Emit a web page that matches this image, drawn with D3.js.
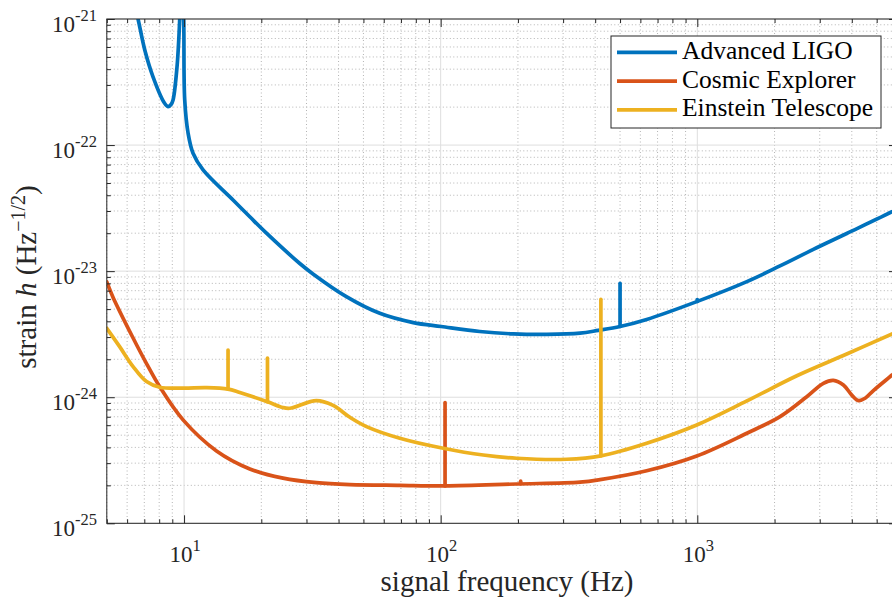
<!DOCTYPE html>
<html><head><meta charset="utf-8">
<script src="https://cdn.jsdelivr.net/npm/d3@7"></script>
<style>
body{margin:0;background:#fff;}
svg{display:block;font-family:"Liberation Serif","Times New Roman",serif;}
</style></head><body>
<svg id="c" width="892" height="601"></svg>
<script>
// ---------------- data ----------------
const seriesNames = ["Advanced LIGO", "Cosmic Explorer", "Einstein Telescope"];
const seriesColors = ["#0072BD", "#D95319", "#EDB120"];

// smooth noise curves (Hz, strain 1/sqrt(Hz))
const aligoFreq = [6.3, 6.62, 7.03, 7.57, 8.36, 8.66, 8.9, 9.06, 9.39, 9.62, 9.8, 9.97, 10.06, 10.37, 10.84, 11.86, 15.52, 18.04, 20.95, 28.25, 31.8, 42.9, 57.9, 78.2, 100.5, 142, 192, 259, 349, 411, 500, 635, 995, 1560, 2100, 2833, 3822, 5740, 6000];
const aligoStrain = [1.58e-21, 1.0e-21, 5.68e-22, 3.48e-22, 2.18e-22, 2.02e-22, 2.10e-22, 2.28e-22, 4.19e-22, 1.0e-21, 3.2e-21, 1.0e-21, 2.28e-22, 1.24e-22, 8.61e-23, 6.35e-23, 3.67e-23, 2.70e-23, 2.0e-23, 1.15e-23, 9.51e-24, 6.28e-24, 4.63e-24, 3.91e-24, 3.64e-24, 3.32e-24, 3.18e-24, 3.15e-24, 3.22e-24, 3.39e-24, 3.64e-24, 4.14e-24, 5.73e-24, 8.26e-24, 1.10e-23, 1.49e-23, 1.99e-23, 2.96e-23, 3.11e-23];

const ceFreq = [5.0, 5.29, 6.33, 7.14, 8.04, 9.91, 13.38, 18.04, 24.3, 32.8, 44.3, 69.3, 104, 197.7, 349, 418, 635, 995, 1560, 2101, 2670, 3099, 3390, 3709, 3999, 4246, 4507, 4855, 5740, 6000];
const ceStrain = [8.20e-24, 6.19e-24, 2.95e-24, 1.85e-24, 1.21e-24, 6.61e-25, 3.75e-25, 2.70e-25, 2.28e-25, 2.10e-25, 2.03e-25, 2.0e-25, 1.98e-25, 2.05e-25, 2.12e-25, 2.22e-25, 2.61e-25, 3.42e-25, 5.18e-25, 7.02e-25, 1.01e-24, 1.29e-24, 1.36e-24, 1.25e-24, 1.04e-24, 9.40e-25, 9.82e-25, 1.13e-24, 1.50e-24, 1.62e-24];

const etFreq = [5.0, 5.61, 6.33, 7.14, 8.04, 9.91, 12.23, 14.84, 16.49, 21.14, 24.3, 25.83, 32.8, 38.1, 44.3, 51.4, 69.3, 102.3, 146.5, 197.7, 309.7, 421, 635, 995, 1560, 2443, 3822, 5740, 6000];
const etStrain = [3.52e-24, 2.52e-24, 1.75e-24, 1.33e-24, 1.20e-24, 1.18e-24, 1.19e-24, 1.16e-24, 1.09e-24, 9.2e-25, 8.28e-25, 8.18e-25, 9.40e-25, 8.61e-25, 6.93e-25, 5.85e-25, 4.73e-25, 3.94e-25, 3.48e-25, 3.28e-25, 3.22e-25, 3.43e-25, 4.32e-25, 6.03e-25, 9.35e-25, 1.48e-24, 2.20e-24, 3.18e-24, 3.31e-24];

// narrow resonance lines (frequency, base of line, top of line)
const aligoLineFreq = [500, 1000];
const aligoLineBase = [3.64e-24, 5.75e-24];
const aligoLineTop = [8.02e-24, 5.95e-24];
const ceLineFreq = [104, 205];
const ceLineBase = [1.98e-25, 2.06e-25];
const ceLineTop = [9.06e-25, 2.16e-25];
const etLineFreq = [14.84, 21.14, 421];
const etLineBase = [1.16e-24, 9.2e-25, 3.43e-25];
const etLineTop = [2.37e-24, 2.04e-24, 5.98e-24];

const xMajorTicks = [10, 100, 1000];
const xMajorExp = ["1", "2", "3"];
const yMajorTicks = [1e-25, 1e-24, 1e-23, 1e-22, 1e-21];
const yMajorExp = ["-25", "-24", "-23", "-22", "-21"];
const xLabel = "signal frequency (Hz)";

// ---------------- layout ----------------
const L = 106.8, T = 19, R = 897, B = 523.3;
const svg = d3.select("#c");
const x = d3.scaleLog().domain([5, 6000]).range([L, R]);
const y = d3.scaleLog().domain([1e-25, 1e-21]).range([B, T]);

const isMajor = v => Math.abs(Math.log10(v) - Math.round(Math.log10(v))) < 1e-9;
const xMinor = x.ticks().filter(v => !isMajor(v));
const yMinor = y.ticks().filter(v => !isMajor(v));

// grid
const grid = svg.append("g");
grid.selectAll(".xmg").data(xMinor).join("line")
  .attr("x1", d => x(d)).attr("x2", d => x(d)).attr("y1", T).attr("y2", B)
  .attr("stroke", "#b4b4b4").attr("stroke-width", 1).attr("stroke-dasharray", "1,2.5");
grid.selectAll(".ymg").data(yMinor).join("line")
  .attr("y1", d => y(d)).attr("y2", d => y(d)).attr("x1", L).attr("x2", R)
  .attr("stroke", "#b4b4b4").attr("stroke-width", 1).attr("stroke-dasharray", "1,2.5");
grid.selectAll(".xMg").data(xMajorTicks).join("line")
  .attr("x1", d => x(d)).attr("x2", d => x(d)).attr("y1", T).attr("y2", B)
  .attr("stroke", "#dedede").attr("stroke-width", 1);
grid.selectAll(".yMg").data(yMajorTicks).join("line")
  .attr("y1", d => y(d)).attr("y2", d => y(d)).attr("x1", L).attr("x2", R)
  .attr("stroke", "#dedede").attr("stroke-width", 1);

// curves
svg.append("clipPath").attr("id", "clip").append("rect")
  .attr("x", L).attr("y", T).attr("width", R - L).attr("height", B - T);
const line = d3.line().x(d => x(d[0])).y(d => y(d[1])).curve(d3.curveCatmullRom.alpha(0.5));
const series = [
  { pts: d3.zip(aligoFreq, aligoStrain), lines: d3.zip(aligoLineFreq, aligoLineBase, aligoLineTop) },
  { pts: d3.zip(ceFreq, ceStrain), lines: d3.zip(ceLineFreq, ceLineBase, ceLineTop) },
  { pts: d3.zip(etFreq, etStrain), lines: d3.zip(etLineFreq, etLineBase, etLineTop) }
];
const LW = 3.7;
const cg = svg.append("g").attr("clip-path", "url(#clip)");
series.forEach((s, i) => {
  const g = cg.append("g");
  g.append("path").datum(s.pts).attr("d", line)
    .attr("fill", "none").attr("stroke", seriesColors[i]).attr("stroke-width", LW)
    .attr("stroke-linejoin", "round").attr("stroke-linecap", "round");
  g.selectAll("line").data(s.lines).join("line")
    .attr("x1", d => x(d[0])).attr("x2", d => x(d[0]))
    .attr("y1", d => y(d[1])).attr("y2", d => y(d[2]))
    .attr("stroke", seriesColors[i]).attr("stroke-width", LW).attr("stroke-linecap", "round");
});

// axes (ticks inward, box)
const axCol = "#262626";
function styleAxis(g) {
  g.select(".domain").remove();
  g.selectAll("line").attr("stroke", axCol);
}
svg.append("g").attr("transform", `translate(0,${B})`)
  .call(d3.axisBottom(x).tickValues(xMinor).tickSize(-4).tickFormat("")).call(styleAxis);
svg.append("g").attr("transform", `translate(0,${B})`)
  .call(d3.axisBottom(x).tickValues(xMajorTicks).tickSize(-8).tickFormat("")).call(styleAxis);
svg.append("g").attr("transform", `translate(0,${T})`)
  .call(d3.axisTop(x).tickValues(xMinor).tickSize(-4).tickFormat("")).call(styleAxis);
svg.append("g").attr("transform", `translate(0,${T})`)
  .call(d3.axisTop(x).tickValues(xMajorTicks).tickSize(-8).tickFormat("")).call(styleAxis);
svg.append("g").attr("transform", `translate(${L},0)`)
  .call(d3.axisLeft(y).tickValues(yMinor).tickSize(-4).tickFormat("")).call(styleAxis);
svg.append("g").attr("transform", `translate(${L},0)`)
  .call(d3.axisLeft(y).tickValues(yMajorTicks).tickSize(-8).tickFormat("")).call(styleAxis);
svg.append("g").attr("transform", `translate(${R},0)`)
  .call(d3.axisRight(y).tickValues(yMajorTicks).tickSize(-8).tickFormat("")).call(styleAxis);

svg.append("rect").attr("x", L).attr("y", T).attr("width", R - L).attr("height", B - T)
  .attr("fill", "none").attr("stroke", axCol).attr("stroke-width", 1);

// tick labels
const tickFont = 23, supFont = 16.5;
yMajorTicks.forEach((v, i) => {
  const t = svg.append("text").attr("x", 97).attr("y", y(v) + 13)
    .attr("text-anchor", "end").attr("font-size", tickFont).attr("fill", axCol);
  t.append("tspan").text("10");
  t.append("tspan").attr("font-size", supFont).attr("dy", -11).text(yMajorExp[i]);
});
xMajorTicks.forEach((v, i) => {
  const t = svg.append("text").attr("x", x(v) + 1).attr("y", 562)
    .attr("text-anchor", "middle").attr("font-size", tickFont).attr("fill", axCol);
  t.append("tspan").text("10");
  t.append("tspan").attr("font-size", supFont).attr("dy", -11).text(xMajorExp[i]);
});

// axis labels
svg.append("text").attr("x", 507).attr("y", 591).attr("text-anchor", "middle")
  .attr("font-size", 29).attr("fill", axCol).text(xLabel);
const yl = svg.append("text").attr("transform", "translate(36,277) rotate(-90)")
  .attr("text-anchor", "middle").attr("font-size", 29).attr("fill", axCol);
yl.append("tspan").text("strain ");
yl.append("tspan").attr("font-style", "italic").text("h");
yl.append("tspan").text(" (Hz");
yl.append("tspan").attr("font-size", 20).attr("dy", -11).text("\u22121/2");
yl.append("tspan").attr("dy", 11).text(")");

// legend
const lg = svg.append("g");
lg.append("rect").attr("x", 611).attr("y", 36).attr("width", 270).attr("height", 92)
  .attr("fill", "#fff").attr("stroke", axCol).attr("stroke-width", 1);
seriesNames.forEach((n, i) => {
  const yy = 52.3 + i * 28.8;
  lg.append("line").attr("x1", 617).attr("x2", 677).attr("y1", yy).attr("y2", yy)
    .attr("stroke", seriesColors[i]).attr("stroke-width", LW);
  lg.append("text").attr("x", 682).attr("y", yy + 6.5).attr("font-size", 25.5)
    .attr("fill", "#000").text(n);
});
</script>
</body></html>
